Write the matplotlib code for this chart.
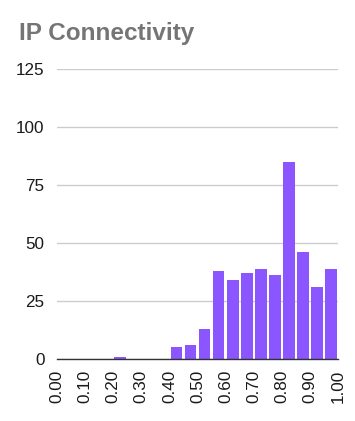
import matplotlib
matplotlib.use("Agg")
import matplotlib.pyplot as plt
import numpy as np

plt.rcParams['font.family'] = ['Liberation Sans', 'DejaVu Sans']

bin_starts = [0.00, 0.05, 0.10, 0.15, 0.20, 0.25, 0.30, 0.35, 0.40, 0.45,
              0.50, 0.55, 0.60, 0.65, 0.70, 0.75, 0.80, 0.85, 0.90, 0.95]
counts = [0, 0, 0, 0, 1, 0, 0, 0, 5, 6,
          13, 38, 34, 37, 39, 36, 85, 46, 31, 39]
x_ticks = [0.0, 0.1, 0.2, 0.3, 0.4, 0.5, 0.6, 0.7, 0.8, 0.9, 1.0]
x_tick_labels = ["0.00", "0.10", "0.20", "0.30", "0.40", "0.50",
                 "0.60", "0.70", "0.80", "0.90", "1.00"]
y_ticks = [0, 25, 50, 75, 100, 125]
title = "IP Connectivity"

W, H = 355, 421
fig = plt.figure(figsize=(W / 100, H / 100), dpi=100)
ax = fig.add_axes([57 / W, 1 - 359 / H, 281 / W, 290 / H])

bin_w = 0.05
bar_color = '#8B55FF'
ax.bar(np.array(bin_starts) + 0.004, counts, width=bin_w - 0.008, align='edge',
       color=bar_color, linewidth=0, zorder=3)

ax.set_xlim(0, 1.0)
ax.set_ylim(0, 125)
ax.set_yticks(y_ticks)
ax.set_yticklabels([str(v) for v in y_ticks])
ax.set_xticks(x_ticks)
ax.set_xticklabels(x_tick_labels, rotation=90)
ax.tick_params(axis='both', length=0, labelsize=12.3, colors='#1a1a1a')
ax.tick_params(axis='y', pad=9)
ax.tick_params(axis='x', pad=8)

ax.grid(axis='y', color='#cccccc', linewidth=1, zorder=0)
ax.grid(axis='x', visible=False)
for s in ['top', 'right', 'left']:
    ax.spines[s].set_visible(False)
ax.spines['bottom'].set_color('#333333')
ax.spines['bottom'].set_linewidth(1)
ax.spines['bottom'].set_zorder(4)

fig.text(19 / W, 1 - 40 / H, title, fontsize=17.5, fontweight='bold',
         color='#757575', va='baseline', ha='left')

fig.savefig('out.png', dpi=100, facecolor='white')
